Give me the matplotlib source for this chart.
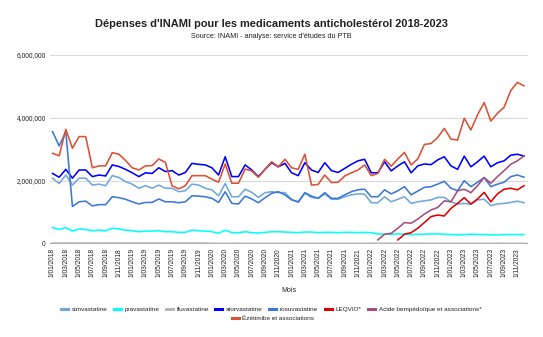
import matplotlib
matplotlib.use("Agg")
import matplotlib.pyplot as plt
from matplotlib.lines import Line2D
from matplotlib.ticker import FuncFormatter

plt.rcParams['font.family'] = ['Liberation Sans', 'DejaVu Sans']

# monthly spending (millions EUR), Jan 2018 .. Dec 2023
years = [2018, 2019, 2020, 2021, 2022, 2023]
months = [f"1/{m:02d}/{y}" for y in years for m in range(1, 13)]

simvastatine = [2.09, 1.92, 2.19, 1.87, 2.09, 2.09, 1.87, 1.90, 1.85, 2.17, 2.11, 1.98,
                1.90, 1.77, 1.85, 1.77, 1.87, 1.77, 1.77, 1.66, 1.69, 1.90, 1.87, 1.77,
                1.72, 1.53, 1.92, 1.50, 1.50, 1.74, 1.64, 1.48, 1.63, 1.66, 1.63, 1.63,
                1.42, 1.32, 1.61, 1.48, 1.45, 1.59, 1.42, 1.42, 1.50, 1.56, 1.59, 1.58,
                1.31, 1.31, 1.50, 1.34, 1.42, 1.50, 1.29, 1.34, 1.37, 1.40, 1.48, 1.48,
                1.34, 1.27, 1.29, 1.26, 1.40, 1.42, 1.22, 1.27, 1.29, 1.32, 1.36, 1.31]
pravastatine = [0.52, 0.46, 0.52, 0.41, 0.48, 0.46, 0.42, 0.44, 0.42, 0.50, 0.48, 0.44,
                0.42, 0.39, 0.41, 0.41, 0.42, 0.39, 0.39, 0.37, 0.37, 0.44, 0.42, 0.41,
                0.39, 0.34, 0.44, 0.36, 0.36, 0.39, 0.36, 0.35, 0.37, 0.39, 0.39, 0.38,
                0.37, 0.36, 0.38, 0.38, 0.36, 0.37, 0.37, 0.36, 0.37, 0.37, 0.36, 0.37,
                0.36, 0.32, 0.31, 0.31, 0.32, 0.31, 0.30, 0.31, 0.31, 0.32, 0.32, 0.31,
                0.30, 0.29, 0.30, 0.31, 0.30, 0.30, 0.29, 0.29, 0.30, 0.30, 0.30, 0.30]
fluvastatine = [0.03] * 24 + [0.02] * 48
atorvastatine = [2.24, 2.12, 2.37, 2.09, 2.35, 2.35, 2.14, 2.19, 2.16, 2.51, 2.46, 2.37,
                 2.26, 2.14, 2.26, 2.24, 2.42, 2.30, 2.33, 2.19, 2.27, 2.56, 2.53, 2.51,
                 2.42, 2.19, 2.77, 2.14, 2.14, 2.51, 2.35, 2.14, 2.37, 2.58, 2.45, 2.56,
                 2.26, 2.17, 2.58, 2.35, 2.27, 2.58, 2.33, 2.27, 2.40, 2.53, 2.64, 2.69,
                 2.26, 2.26, 2.61, 2.32, 2.48, 2.61, 2.26, 2.48, 2.54, 2.52, 2.67, 2.77,
                 2.48, 2.37, 2.79, 2.45, 2.61, 2.79, 2.45, 2.58, 2.64, 2.82, 2.85, 2.79]
rosuvastatine = [3.57, 3.11, 3.57, 1.19, 1.34, 1.36, 1.21, 1.25, 1.25, 1.50, 1.47, 1.42,
                 1.34, 1.27, 1.32, 1.32, 1.43, 1.34, 1.34, 1.31, 1.34, 1.53, 1.52, 1.50,
                 1.45, 1.32, 1.66, 1.29, 1.27, 1.52, 1.43, 1.31, 1.47, 1.61, 1.66, 1.56,
                 1.40, 1.34, 1.63, 1.52, 1.45, 1.63, 1.45, 1.45, 1.56, 1.66, 1.72, 1.74,
                 1.50, 1.50, 1.72, 1.59, 1.69, 1.82, 1.56, 1.68, 1.80, 1.82, 1.90, 1.99,
                 1.77, 1.69, 2.01, 1.82, 1.96, 2.11, 1.82, 1.90, 1.96, 2.14, 2.19, 2.12]
leqvio = [None] * 52 + [0.13, 0.31, 0.36, 0.50, 0.68, 0.87, 0.92, 0.89, 1.13, 1.29,
                        1.47, 1.27, 1.43, 1.64, 1.34, 1.59, 1.74, 1.77, 1.72, 1.85]
acide_bempedoique = [None] * 49 + [0.13, 0.31, 0.34, 0.50, 0.68, 0.66, 0.79, 0.95, 1.08,
                                   1.16, 1.37, 1.34, 1.69, 1.74, 1.63, 1.85, 2.11, 1.93,
                                   2.14, 2.33, 2.53, 2.64, 2.80]
ezetimibe = [2.88, 2.80, 3.64, 3.04, 3.41, 3.41, 2.42, 2.48, 2.48, 2.90, 2.85, 2.65,
             2.42, 2.35, 2.48, 2.49, 2.70, 2.59, 1.85, 1.75, 1.85, 2.17, 2.17, 2.17,
             2.06, 1.96, 2.54, 1.93, 1.93, 2.38, 2.32, 2.12, 2.37, 2.61, 2.45, 2.69,
             2.42, 2.37, 2.85, 1.87, 1.89, 2.19, 1.95, 1.96, 2.16, 2.26, 2.35, 2.51,
             2.17, 2.24, 2.69, 2.47, 2.70, 2.91, 2.51, 2.70, 3.16, 3.19, 3.38, 3.67,
             3.33, 3.30, 3.99, 3.62, 4.10, 4.49, 3.90, 4.15, 4.34, 4.87, 5.13, 5.02]

series = [
    ("simvastatine", simvastatine, "#6fa8dc"),
    ("pravastatine", pravastatine, "#00ffff"),
    ("fluvastatine", fluvastatine, "#b7b7b7"),
    ("atorvastatine", atorvastatine, "#0000ff"),
    ("rosuvastatine", rosuvastatine, "#3c78d8"),
    ("LEQVIO*", leqvio, "#e00000"),
    ("Acide bempédoïque et associations*", acide_bempedoique, "#a64d79"),
    ("Ézétimibe et associations", ezetimibe, "#dc5034"),
]

fig = plt.figure(figsize=(5.43, 3.37), dpi=100)
ax = fig.add_axes([50 / 543, 1 - 244 / 337, 478 / 543, 189 / 337])

x = list(range(len(months)))
handles = []
for name, values, color in series:
    xs = [i for i, v in zip(x, values) if v is not None]
    ys = [v * 1e6 for v in values if v is not None]
    ax.plot(xs, ys, color=color, linewidth=1.15, solid_joinstyle='round', zorder=3)
    handles.append(Line2D([], [], color=color, linewidth=2.2))

ax.set_xlim(-0.38, 71.6)
ax.set_ylim(0, 6e6)
ax.set_yticks([0, 2e6, 4e6, 6e6])
ax.yaxis.set_major_formatter(FuncFormatter(lambda v, p: f"{v:,.0f}"))
ax.set_xticks(x[::2])
ax.set_xticklabels(months[::2], rotation=90)
ax.tick_params(axis='both', length=0, labelsize=4.8, colors='#222222')
ax.tick_params(axis='x', pad=3)
ax.tick_params(axis='y', pad=3)
ax.grid(axis='y', color='#d9d9d9', linewidth=0.8)
ax.axhline(0, color='#a0a0a0', linewidth=1.6, zorder=2)
for s in ax.spines.values():
    s.set_visible(False)

fig.text(0.5, 1 - 24 / 337, "Dépenses d'INAMI pour les medicaments anticholestérol 2018-2023",
         ha='center', va='center', fontsize=7.9, fontweight='bold', color='#222222')
fig.text(0.5, 1 - 37 / 337, "Source: INAMI - analyse: service d'études du PTB",
         ha='center', va='center', fontsize=5.2, color='#222222')
fig.text(289 / 543, 1 - 291 / 337, "Mois", ha='center', va='center', fontsize=5,
         color='#222222')

leg_kw = dict(frameon=False, fontsize=4.6, handlelength=1.1, handletextpad=0.6,
              columnspacing=1.0, borderpad=0, labelcolor='#222222')
fig.legend(handles[:7], [s[0] for s in series[:7]], ncol=7,
           loc='center', bbox_to_anchor=(271 / 543, 1 - 309 / 337), **leg_kw)
fig.legend(handles[7:], [series[7][0]], ncol=1,
           loc='center', bbox_to_anchor=(273 / 543, 1 - 318 / 337), **leg_kw)

fig.savefig("out.png", dpi=100, facecolor='white')
